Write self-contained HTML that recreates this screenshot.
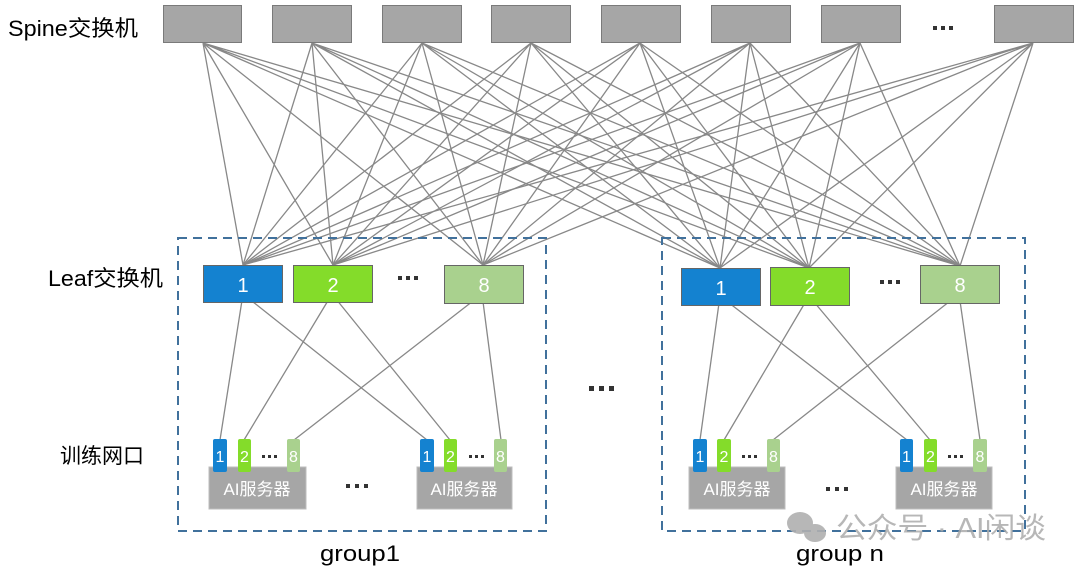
<!DOCTYPE html>
<html><head><meta charset="utf-8"><style>
html,body{margin:0;padding:0;background:#fff;width:1080px;height:573px;overflow:hidden}
svg{display:block}
text{font-family:"Liberation Sans","Noto Sans CJK SC",sans-serif}
</style></head><body>
<svg width="1080" height="573" viewBox="0 0 1080 573" xmlns="http://www.w3.org/2000/svg">
<g stroke="#888" stroke-width="1.3" fill="none">
<path d="M203 43L243 265M203 43L333 265M203 43L483 265M203 43L720 268M203 43L809 268M203 43L960 266"/>
<path d="M312 43L243 265M312 43L333 265M312 43L483 265M312 43L720 268M312 43L809 268M312 43L960 266"/>
<path d="M422 43L243 265M422 43L333 265M422 43L483 265M422 43L720 268M422 43L809 268M422 43L960 266"/>
<path d="M531 43L243 265M531 43L333 265M531 43L483 265M531 43L720 268M531 43L809 268M531 43L960 266"/>
<path d="M640 43L243 265M640 43L333 265M640 43L483 265M640 43L720 268M640 43L809 268M640 43L960 266"/>
<path d="M750 43L243 265M750 43L333 265M750 43L483 265M750 43L720 268M750 43L809 268M750 43L960 266"/>
<path d="M860 43L243 265M860 43L333 265M860 43L483 265M860 43L720 268M860 43L809 268M860 43L960 266"/>
<path d="M1033 43L243 265M1033 43L333 265M1033 43L483 265M1033 43L720 268M1033 43L809 268M1033 43L960 266"/>
<path d="M243 294L220 440M243 294L427 440M332 294L244 440M332 294L450 440M482 294L294 440M482 294L501 440"/>
<path d="M720 296L700 440M720 296L907 440M809 296L724 440M809 296L930 440M959 294L773 440M959 294L980 440"/>
</g>
<g fill="#a6a6a6" stroke="#7a7a7a" stroke-width="1">
<rect x="163.5" y="5.5" width="78" height="37"/>
<rect x="272.5" y="5.5" width="79" height="37"/>
<rect x="382.5" y="5.5" width="79" height="37"/>
<rect x="491.5" y="5.5" width="79" height="37"/>
<rect x="601.5" y="5.5" width="79" height="37"/>
<rect x="711.5" y="5.5" width="79" height="37"/>
<rect x="821.5" y="5.5" width="79" height="37"/>
<rect x="994.5" y="5.5" width="79" height="37"/>
</g>
<g fill="#333">
<rect x="933" y="26" width="4" height="4"/><rect x="941" y="26" width="4" height="4"/><rect x="949" y="26" width="4" height="4"/>
<rect x="398" y="276" width="4" height="4"/><rect x="406" y="276" width="4" height="4"/><rect x="414" y="276" width="4" height="4"/>
<rect x="880" y="280" width="4" height="4"/><rect x="888" y="280" width="4" height="4"/><rect x="896" y="280" width="4" height="4"/>
<rect x="589" y="386" width="5" height="5"/><rect x="599" y="386" width="5" height="5"/><rect x="609" y="386" width="5" height="5"/>
<rect x="346" y="484" width="4" height="4"/><rect x="355" y="484" width="4" height="4"/><rect x="364" y="484" width="4" height="4"/>
<rect x="826" y="487" width="4" height="4"/><rect x="835" y="487" width="4" height="4"/><rect x="844" y="487" width="4" height="4"/>
<rect x="262" y="455" width="3" height="3"/><rect x="268" y="455" width="3" height="3"/><rect x="274" y="455" width="3" height="3"/>
<rect x="469" y="455" width="3" height="3"/><rect x="475" y="455" width="3" height="3"/><rect x="481" y="455" width="3" height="3"/>
<rect x="742" y="455" width="3" height="3"/><rect x="748" y="455" width="3" height="3"/><rect x="754" y="455" width="3" height="3"/>
<rect x="948" y="455" width="3" height="3"/><rect x="954" y="455" width="3" height="3"/><rect x="960" y="455" width="3" height="3"/>
</g>
<text x="8" y="36" font-size="22" fill="#000" textLength="130" lengthAdjust="spacingAndGlyphs">Spine交换机</text>
<text x="48" y="286" font-size="22" fill="#000" textLength="115" lengthAdjust="spacingAndGlyphs">Leaf交换机</text>
<text x="60" y="463" font-size="21" fill="#000" textLength="84" lengthAdjust="spacingAndGlyphs">训练网口</text>
<g fill="none" stroke="#41719c" stroke-width="2" stroke-dasharray="9,6">
<rect x="178" y="238" width="368" height="293"/>
<rect x="662" y="238" width="363" height="293"/>
</g>
<g stroke="#666" stroke-width="1">
<rect x="203.5" y="265.5" width="79" height="37" fill="#1482d0"/>
<rect x="293.5" y="265.5" width="79" height="37" fill="#84dc2a"/>
<rect x="444.5" y="265.5" width="79" height="38" fill="#a9d18e"/>
<rect x="681.5" y="268.5" width="79" height="37" fill="#1482d0"/>
<rect x="770.5" y="267.5" width="79" height="38" fill="#84dc2a"/>
<rect x="920.5" y="265.5" width="79" height="38" fill="#a9d18e"/>
</g>
<g fill="#fff" font-size="20" text-anchor="middle">
<text x="243" y="292">1</text><text x="333" y="292">2</text><text x="484" y="292">8</text>
<text x="721" y="295">1</text><text x="810" y="294">2</text><text x="960" y="292">8</text>
</g>
<g fill="#a6a6a6" stroke="#bdbdbd" stroke-width="1">
<rect x="209" y="467" width="97" height="42"/>
<rect x="417" y="467" width="95" height="42"/>
<rect x="689" y="467" width="96" height="42"/>
<rect x="896" y="467" width="96" height="42"/>
</g>
<g fill="#fff" font-size="17" text-anchor="middle">
<text x="257" y="495">AI服务器</text><text x="464" y="495">AI服务器</text>
<text x="737" y="495">AI服务器</text><text x="944" y="495">AI服务器</text>
</g>
<g>
<rect x="213" y="439" width="14" height="33" rx="2" fill="#1482d0"/>
<rect x="238" y="439" width="13" height="33" rx="2" fill="#84dc2a"/>
<rect x="287" y="439" width="13" height="33" rx="2" fill="#a9d18e"/>
<rect x="420" y="439" width="14" height="33" rx="2" fill="#1482d0"/>
<rect x="444" y="439" width="13" height="33" rx="2" fill="#84dc2a"/>
<rect x="494" y="439" width="13" height="33" rx="2" fill="#a9d18e"/>
<rect x="693" y="439" width="14" height="33" rx="2" fill="#1482d0"/>
<rect x="717" y="439" width="14" height="33" rx="2" fill="#84dc2a"/>
<rect x="767" y="439" width="13" height="33" rx="2" fill="#a9d18e"/>
<rect x="900" y="439" width="13" height="33" rx="2" fill="#1482d0"/>
<rect x="924" y="439" width="13" height="33" rx="2" fill="#84dc2a"/>
<rect x="973" y="439" width="14" height="33" rx="2" fill="#a9d18e"/>
</g>
<g fill="#fff" font-size="16" text-anchor="middle">
<text x="220" y="462">1</text><text x="244.5" y="462">2</text><text x="293.5" y="462">8</text>
<text x="427" y="462">1</text><text x="450.5" y="462">2</text><text x="500.5" y="462">8</text>
<text x="700" y="462">1</text><text x="724" y="462">2</text><text x="773.5" y="462">8</text>
<text x="906.5" y="462">1</text><text x="930.5" y="462">2</text><text x="980" y="462">8</text>
</g>
<text x="360" y="561" font-size="22" fill="#000" text-anchor="middle" textLength="80" lengthAdjust="spacingAndGlyphs">group1</text>
<text x="840" y="561" font-size="22" fill="#000" text-anchor="middle" textLength="88" lengthAdjust="spacingAndGlyphs">group n</text>
<g fill="#b0b0b0" opacity="0.9">
<ellipse cx="800" cy="523" rx="13" ry="11"/>
<ellipse cx="815" cy="533" rx="11" ry="9"/>
</g>
<text x="836" y="538" font-size="29" fill="#aaa" fill-opacity="0.85" textLength="210" lengthAdjust="spacingAndGlyphs">公众号 · AI闲谈</text>
</svg>
</body></html>
